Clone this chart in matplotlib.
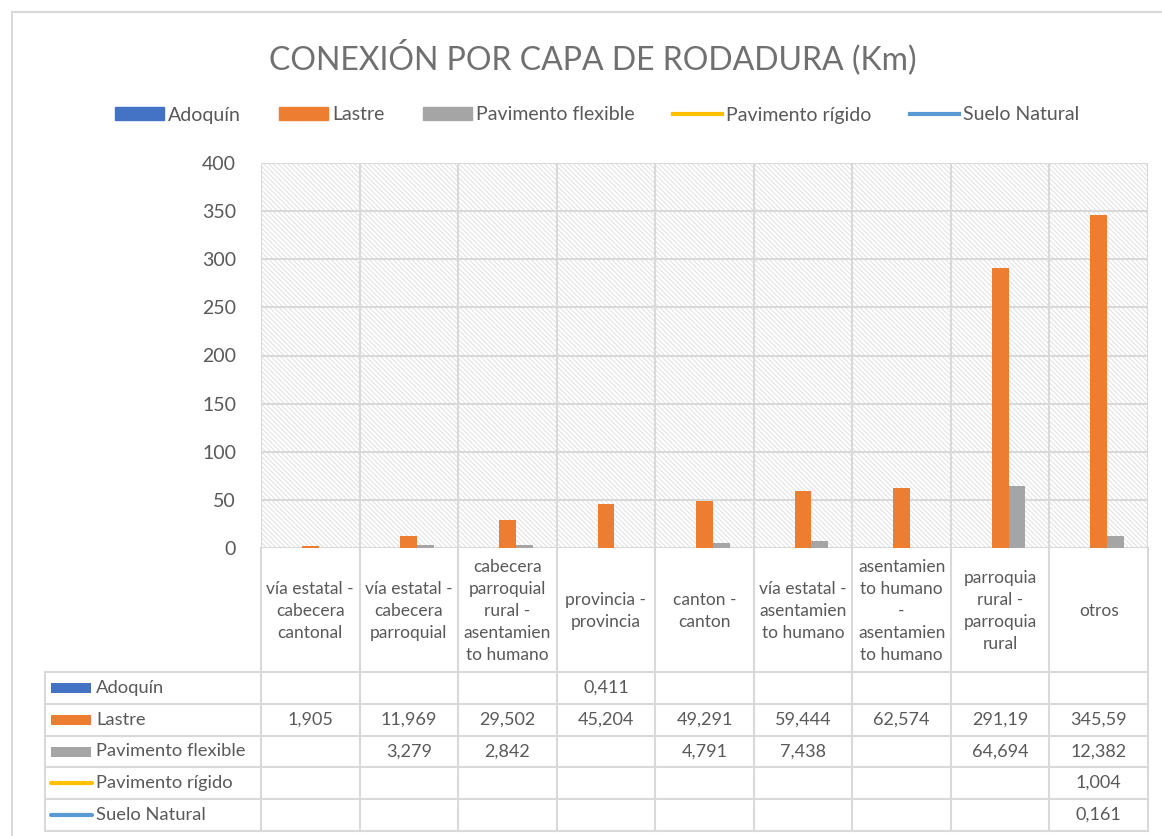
import numpy as np
import matplotlib.pyplot as plt
from matplotlib.patches import Rectangle
from matplotlib.lines import Line2D

plt.rcParams['font.family'] = ['Lato', 'DejaVu Sans']
plt.rcParams['hatch.linewidth'] = 0.7

# --- Data ---
categories = [
    "vía estatal -\ncabecera\ncantonal",
    "vía estatal -\ncabecera\nparroquial",
    "cabecera\nparroquial\nrural -\nasentamien\nto humano",
    "provincia -\nprovincia",
    "canton -\ncanton",
    "vía estatal -\nasentamien\nto humano",
    "asentamien\nto humano\n-\nasentamien\nto humano",
    "parroquia\nrural -\nparroquia\nrural",
    "otros",
]
series_names = ["Adoquín", "Lastre", "Pavimento flexible", "Pavimento rígido", "Suelo Natural"]
adoquin = [None, None, None, 0.411, None, None, None, None, None]
lastre = [1.905, 11.969, 29.502, 45.204, 49.291, 59.444, 62.574, 291.19, 345.59]
pav_flexible = [None, 3.279, 2.842, None, 4.791, 7.438, None, 64.694, 12.382]
pav_rigido = [None, None, None, None, None, None, None, None, 1.004]
suelo_natural = [None, None, None, None, None, None, None, None, 0.161]

series_values = [adoquin, lastre, pav_flexible, pav_rigido, suelo_natural]
series_colors = ["#4472C4", "#ED7D31", "#A5A5A5", "#FFC000", "#5B9BD5"]
series_kind = ["bar", "bar", "bar", "line", "line"]

TEXT = "#595959"
GRID = "#d9d9d9"

W, H = 1162, 836
fig = plt.figure(figsize=(W / 100, H / 100), dpi=100)

def fx(px):
    return px / W

def fy(py):
    return 1 - py / H

# outer chart border
fig.add_artist(Line2D([fx(12), fx(12)], [fy(12), fy(836)], color=GRID, lw=1.5))
fig.add_artist(Line2D([fx(12), fx(1162)], [fy(12), fy(12)], color=GRID, lw=1.5))

# --- Plot area ---
left, right, top, bottom = 261, 1148, 163, 548
ax = fig.add_axes([fx(left), fy(bottom), fx(right - left), (bottom - top) / H])
n = len(categories)
x = np.arange(n)
ax.set_xlim(-0.5, n - 0.5)
ax.set_ylim(0, 400)

ax.add_patch(Rectangle((0, 0), 1, 1, transform=ax.transAxes, facecolor='white',
                       edgecolor='#e0e0e0', hatch='\\' * 7, lw=0, zorder=0))
for yv in range(0, 401, 50):
    ax.axhline(yv, color=GRID, lw=1.5, zorder=1)
for xv in np.arange(-0.5, n, 1.0):
    ax.axvline(xv, color=GRID, lw=1.5, zorder=1)

bw = 0.17
bar_series = [i for i, k in enumerate(series_kind) if k == "bar"]
for j, si in enumerate(bar_series):
    vals = np.array([np.nan if v is None else v for v in series_values[si]], dtype=float)
    offs = (j - (len(bar_series) - 1) / 2) * bw
    ax.bar(x + offs, np.nan_to_num(vals), width=bw, color=series_colors[si], zorder=3)
handles = []
for si, name in enumerate(series_names):
    if series_kind[si] == "bar":
        handles.append(Rectangle((0, 0), 1, 1, color=series_colors[si], label=name))
    else:
        vals = np.array([np.nan if v is None else v for v in series_values[si]], dtype=float)
        ln, = ax.plot(x, vals, color=series_colors[si], lw=3, label=name, zorder=4)
        handles.append(ln)

ax.set_yticks(range(0, 401, 50))
ax.set_xticks([])
ax.tick_params(axis='y', length=0, pad=18, labelsize=14, labelcolor=TEXT)
for s in ax.spines.values():
    s.set_visible(False)

# --- Title and legend ---
fig.text(fx(593), fy(57), "CONEXIÓN POR CAPA DE RODADURA (Km)", ha='center', va='center',
         fontsize=23, color='#707070', fontweight='normal')
leg = fig.legend(handles=handles, loc='center', bbox_to_anchor=(fx(597), fy(115)), ncol=5,
                 frameon=False, fontsize=14, handlelength=2.5, handleheight=0.65,
                 handletextpad=0.2, columnspacing=2.0, labelcolor=TEXT)

# --- Data table ---
col_edges = [ax.transData.transform((xv, 0))[0] for xv in np.arange(-0.5, n, 1.0)]
col_edges = [W * (c / fig.bbox.width) for c in col_edges]
row_edges = [548, 672, 704, 736, 767, 799, 831]
tleft = 45

def hline(y, x0, x1):
    fig.add_artist(Line2D([fx(x0), fx(x1)], [fy(y), fy(y)], color=GRID, lw=1.5))

def vline(xp, y0, y1):
    fig.add_artist(Line2D([fx(xp), fx(xp)], [fy(y0), fy(y1)], color=GRID, lw=1.5))

for c in col_edges:
    vline(c, row_edges[0], row_edges[-1])
vline(tleft, row_edges[1], row_edges[-1])
for r in row_edges[1:]:
    hline(r, tleft, col_edges[-1])

for i, cat in enumerate(categories):
    cx = (col_edges[i] + col_edges[i + 1]) / 2
    fig.text(fx(cx), fy((row_edges[0] + row_edges[1]) / 2 + 1), cat, ha='center', va='center',
             fontsize=12.5, color=TEXT, linespacing=1.45)

for si, name in enumerate(series_names):
    ytop, ybot = row_edges[si + 1], row_edges[si + 2]
    yc = (ytop + ybot) / 2
    if series_kind[si] == "bar":
        fig.add_artist(Rectangle((fx(51), fy(yc + 5)), fx(40), 10 / H,
                                 color=series_colors[si], lw=0))
    else:
        fig.add_artist(Line2D([fx(51), fx(92)], [fy(yc), fy(yc)], color=series_colors[si],
                              lw=3, solid_capstyle='round'))
    fig.text(fx(96), fy(yc), name, ha='left', va='center', fontsize=13.2, color=TEXT)
    for i, v in enumerate(series_values[si]):
        if v is None:
            continue
        cx = (col_edges[i] + col_edges[i + 1]) / 2
        fig.text(fx(cx), fy(yc), str(v).replace('.', ','), ha='center', va='center',
                 fontsize=13, color=TEXT)

fig.savefig("out.png", dpi=100)
